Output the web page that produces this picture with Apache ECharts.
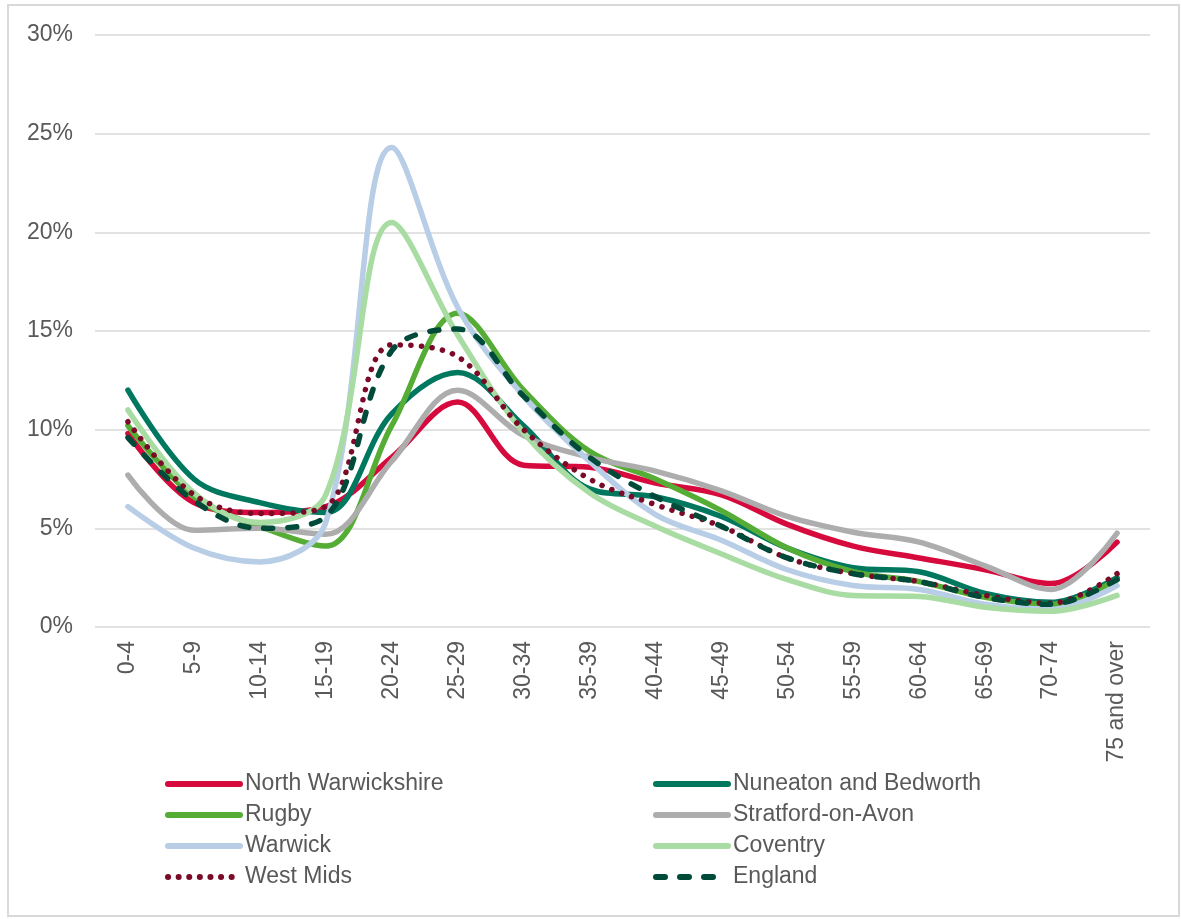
<!DOCTYPE html>
<html>
<head>
<meta charset="utf-8">
<script src="https://cdn.jsdelivr.net/npm/echarts@6/dist/echarts.min.js"></script>
<style>
  html, body { margin: 0; padding: 0; background: #fff; }
  #chart { width: 1181px; height: 919px; }
</style>
</head>
<body>
<div id="chart"></div>
<script>
// age bands
const ageBands = ['0-4', '5-9', '10-14', '15-19', '20-24', '25-29', '30-34', '35-39',
  '40-44', '45-49', '50-54', '55-59', '60-64', '65-69', '70-74', '75 and over'];

// share of population in each band (%)
const northWarwickshire = [9.8, 6.3, 5.8, 6.1, 8.6, 11.4, 8.2, 8.1, 7.3, 6.7, 5.2, 4.1, 3.5, 2.9, 2.2, 4.3];
const nuneatonBedworth = [12.0, 7.5, 6.3, 5.8, 10.8, 12.9, 10.2, 7.0, 6.6, 5.6, 4.0, 3.0, 2.8, 1.7, 1.25, 2.5];
const rugby = [10.2, 6.6, 5.1, 4.1, 10.2, 15.9, 12.0, 8.9, 7.5, 5.9, 4.0, 2.8, 2.3, 1.5, 1.15, 2.4];
const stratford = [7.7, 4.9, 5.0, 4.7, 8.4, 12.0, 9.7, 8.6, 7.9, 6.9, 5.6, 4.8, 4.3, 3.1, 1.9, 4.75];
const warwick = [6.1, 4.0, 3.3, 5.3, 24.3, 16.2, 11.7, 8.4, 5.7, 4.4, 2.9, 2.1, 1.9, 1.15, 0.9, 2.1];
const coventry = [11.0, 6.8, 5.3, 6.7, 20.5, 14.8, 9.85, 6.8, 5.1, 3.7, 2.4, 1.6, 1.55, 1.0, 0.8, 1.6];
const westMids = [10.4, 6.7, 5.75, 6.1, 14.3, 13.7, 10.0, 7.5, 6.2, 5.1, 3.5, 2.7, 2.3, 1.6, 1.2, 2.7];
const england = [9.6, 6.4, 5.0, 5.6, 14.0, 15.1, 11.7, 8.6, 6.6, 5.1, 3.5, 2.7, 2.3, 1.5, 1.15, 2.4];

const textColor = '#595959';
const font = '"Liberation Sans", Arial, sans-serif';

function line(name, data, color, extra) {
  return {
    name: name,
    type: 'line',
    data: data,
    smooth: 0.35,
    symbol: 'none',
    lineStyle: Object.assign({ color: color, width: 5.5, cap: 'round', join: 'round' }, extra || {}),
    itemStyle: { color: color },
  };
}

var myChart = echarts.init(document.getElementById('chart'));

const legendCommon = {
  orient: 'vertical',
  top: 772,
  padding: 0,
  itemWidth: 72,
  itemHeight: 14,
  itemGap: 7,
  itemStyle: { opacity: 0 },
  lineStyle: { width: 6, cap: 'round' },
  textStyle: { color: textColor, fontSize: 23, fontFamily: font, lineHeight: 24 },
  selectedMode: false,
};

const option = {
  animation: false,
  backgroundColor: '#fff',
  graphic: [
    {
      type: 'rect',
      shape: { x: 8, y: 5, width: 1171, height: 911 },
      style: { fill: 'none', stroke: '#d9d9d9', lineWidth: 2 },
      silent: true,
    },
  ],
  grid: {
    left: 95,
    right: 31,
    top: 35,
    bottom: 292,
  },
  legend: [
    Object.assign({}, legendCommon, {
      left: 165,
      data: ['North Warwickshire', 'Rugby', 'Warwick', 'West Mids'],
    }),
    Object.assign({}, legendCommon, {
      left: 653,
      data: ['Nuneaton and Bedworth', 'Stratford-on-Avon', 'Coventry', 'England'],
    }),
  ],
  xAxis: {
    type: 'category',
    data: ageBands,
    boundaryGap: true,
    axisLine: { show: false },
    axisTick: { show: false },
    axisLabel: {
      rotate: 90,
      margin: 14,
      color: textColor,
      fontSize: 23,
      fontFamily: font,
      interval: 0,
    },
  },
  yAxis: {
    type: 'value',
    min: 0,
    max: 30,
    interval: 5,
    axisLine: { show: false },
    axisTick: { show: false },
    axisLabel: {
      formatter: '{value}%',
      margin: 22,
      color: textColor,
      fontSize: 23,
      fontFamily: font,
    },
    splitLine: { lineStyle: { color: '#d9d9d9', width: 1.5 } },
  },
  series: [
    line('North Warwickshire', northWarwickshire, '#d60a3c'),
    line('Nuneaton and Bedworth', nuneatonBedworth, '#00775f'),
    line('Rugby', rugby, '#55ad35'),
    line('Stratford-on-Avon', stratford, '#adadad'),
    line('Warwick', warwick, '#b8cde6'),
    line('Coventry', coventry, '#a9dca2'),
    line('West Mids', westMids, '#7a0a28', { type: [0.1, 10.5] }),
    line('England', england, '#004a3a', { type: [9, 15] }),
  ],
};

myChart.setOption(option);
</script>
</body>
</html>
